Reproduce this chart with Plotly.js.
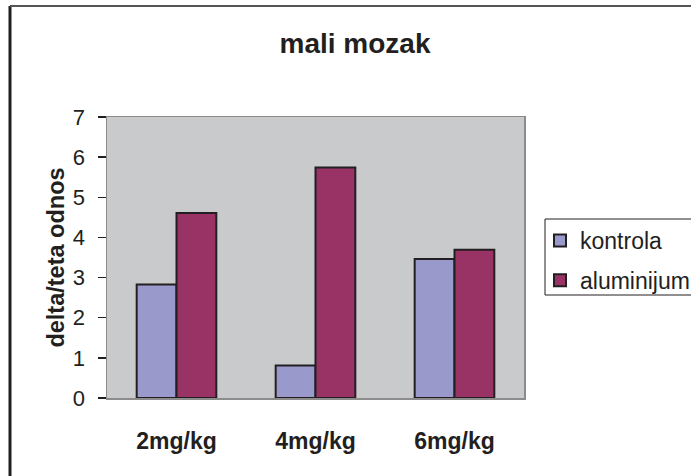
<!DOCTYPE html>
<html>
<head>
<meta charset="utf-8">
<script src="https://cdn.plot.ly/plotly-3.0.1.min.js"></script>
<style>
  html, body { margin: 0; padding: 0; background: #ffffff; overflow: hidden; }
  #chart { width: 720px; height: 476px; }
</style>
</head>
<body>
<div id="chart"></div>
<script>
const categories = ["2mg/kg", "4mg/kg", "6mg/kg"];
const kontrola = [2.83, 0.81, 3.46];
const aluminijum = [4.61, 5.74, 3.69];
const seriesNames = ["kontrola", "aluminijum"];
const yTickValues = [0, 1, 2, 3, 4, 5, 6, 7];

const FONT = "Arial, 'Liberation Sans', Helvetica, sans-serif";
const outline = { color: "#231f20", width: 2 };

// figure is a bit wider than the window so that the frame and the legend
// box run off the right edge, as in the reference
const W = 720, H = 476;
const L = 107, R = 196, T = 117, B = 78;
const PW = W - L - R, PH = H - T - B;
const px = v => (v - L) / PW;          // pixel x -> paper x
const py = v => (H - B - v) / PH;      // pixel y -> paper y

const traces = [
  { type: "bar", name: seriesNames[0], x: categories, y: kontrola, legendgroup: "a",
    marker: { color: "#9999cc", line: outline } },
  { type: "bar", name: seriesNames[1], x: categories, y: aluminijum, legendgroup: "b",
    marker: { color: "#993366", line: outline } }
];

const layout = {
  width: W, height: H,
  margin: { l: L, r: R, t: T, b: B, pad: 0 },
  paper_bgcolor: "#ffffff",
  plot_bgcolor: "#c9cacc",
  font: { family: FONT, color: "#231f20" },
  barmode: "group",
  bargap: 0.427,
  bargroupgap: 0,
  showlegend: true,
  title: {
    text: "mali mozak",
    font: { family: FONT, size: 28, weight: "bold", color: "#231f20" },
    xref: "paper", x: px(355), xanchor: "center",
    yref: "container", y: 1 - 43 / H, yanchor: "middle"
  },
  xaxis: {
    type: "category",
    showline: true, linecolor: "#8c8c8c", linewidth: 1.5, mirror: true,
    ticks: "", showgrid: false, zeroline: false,
    tickfont: { family: FONT, size: 23, weight: "bold", color: "#231f20" },
    ticklabelstandoff: 22,
    fixedrange: true
  },
  yaxis: {
    range: [0, 7], tickvals: yTickValues, ticktext: yTickValues.map(String),
    showline: true, linecolor: "#8c8c8c", linewidth: 1.5, mirror: true,
    ticks: "outside", ticklen: 8, tickwidth: 1.5, tickcolor: "#231f20",
    showgrid: false, zeroline: false,
    tickfont: { family: FONT, size: 22, color: "#231f20" },
    ticklabelstandoff: 8,
    automargin: false,
    title: { text: "delta/teta odnos", standoff: 1,
             font: { family: FONT, size: 23.5, weight: "bold", color: "#231f20" } },
    fixedrange: true
  },
  legend: {
    x: px(540), xanchor: "left", y: py(219), yanchor: "top",
    bgcolor: "rgba(0,0,0,0)", borderwidth: 0,
    font: { family: FONT, size: 23, color: "#231f20" },
    traceorder: "grouped", tracegroupgap: 7, itemwidth: 30
  },
  shapes: [
    // legend box
    { type: "rect", xref: "paper", yref: "paper",
      x0: px(545), x1: px(740), y0: py(295), y1: py(219),
      line: { color: "#231f20", width: 1 }, fillcolor: "rgba(0,0,0,0)", layer: "below" },
    // outer chart frame (left and top edges)
    { type: "line", xref: "paper", yref: "paper",
      x0: px(10), x1: px(10), y0: py(500), y1: py(6),
      line: { color: "#231f20", width: 3 } },
    { type: "line", xref: "paper", yref: "paper",
      x0: px(10), x1: px(740), y0: py(6), y1: py(6),
      line: { color: "#555555", width: 2 } }
  ]
};

Plotly.newPlot("chart", traces, layout, { staticPlot: true, displayModeBar: false });
</script>
</body>
</html>
